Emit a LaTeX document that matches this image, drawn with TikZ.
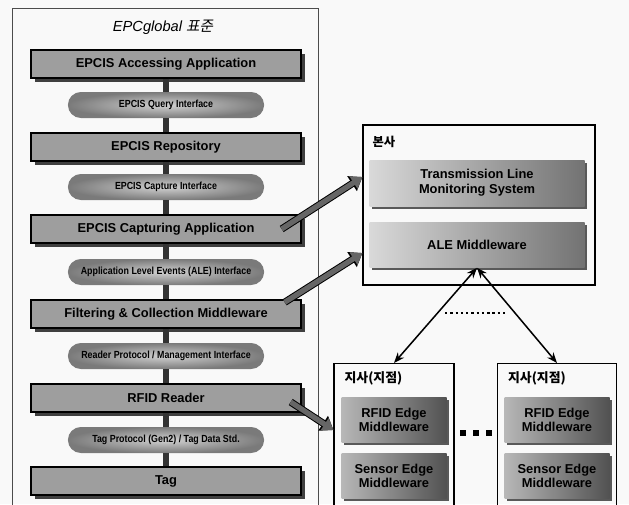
\documentclass[tikz,border=0pt]{standalone}
\usepackage{fontspec}
\usepackage{graphicx}
\setmainfont{Liberation Sans}
\newfontfamily\kr{Noto Sans CJK KR}
\newfontfamily\krit[FakeSlant=0.2]{Noto Sans CJK KR}
\usetikzlibrary{arrows.meta,shapes.misc,shadows,positioning,calc}
\newcommand{\narrowtxt}[1]{\scalebox{0.86}[1]{#1}}

\begin{document}
\begin{tikzpicture}[x=0.03cm, y=-0.03cm,
    layer/.style={draw, line width=1.2pt, fill=black!38, minimum width=8.1cm, minimum height=0.84cm,
        font=\bfseries\fontsize{11}{13}\selectfont,
        drop shadow={shadow xshift=3.5pt, shadow yshift=-3.5pt, fill=black!75, opacity=1}},
    iface/.style={rounded rectangle, inner color=black!18, outer color=black!52,
        minimum width=6.12cm, minimum height=0.78cm, font=\bfseries\fontsize{8.8}{10}\selectfont},
    mwbox/.style={align=center, left color=black!15, right color=black!55, inner sep=1pt,
        font=\bfseries\fontsize{11}{12.5}\selectfont,
        drop shadow={shadow xshift=2.5pt, shadow yshift=-2.5pt, fill=black!65, opacity=1}},
    edgebox/.style={mwbox, left color=black!28, right color=black!68, minimum width=3.15cm, minimum height=1.35cm},
    frame/.style={draw, line width=1pt},
    spine/.style={line width=5pt, black!80},
    bolt/.style={line width=4.5pt, draw=black!60, -{Triangle[length=9pt,width=12pt]},
        preaction={draw=black, line width=6.2pt, -{Triangle[length=10.5pt,width=14.5pt]}}},
    link/.style={line width=1.3pt, {Stealth[length=9pt,width=7pt]}-{Stealth[length=9pt,width=7pt]}}]

    \useasboundingbox (0,0) rectangle (629,504);
    \fill[gray!5] (0,0) rectangle (629,504);

    % EPCglobal stack
    \draw[gray!60!black, line width=0.6pt] (12,520) |- (318,8) -- (318,520);
    \node[font=\fontsize{12.5}{14}\selectfont] (title) at (163,27) {\itshape EPCglobal \krit 표준};

    \node[layer] (acc) at (166,64) {EPCIS Accessing Application};
    \node[iface] (qi) at (166,105) {\narrowtxt{EPCIS Query Interface}};
    \node[layer] (repo) at (166,147) {EPCIS Repository};
    \node[iface] (ci) at (166,187) {\narrowtxt{EPCIS Capture Interface}};
    \node[layer] (capt) at (166,229) {EPCIS Capturing Application};
    \node[iface] (alei) at (166,272) {\narrowtxt{Application Level Events (ALE) Interface}};
    \node[layer] (filt) at (166,314) {Filtering \& Collection Middleware};
    \node[iface] (rpi) at (166,356) {\narrowtxt{Reader Protocol / Management Interface}};
    \node[layer] (rfid) at (166,398) {RFID Reader};
    \node[iface] (tpi) at (166,440) {\narrowtxt{Tag Protocol (Gen2) / Tag Data Std.}};
    \node[layer] (tag) at (166,481) {Tag};

    \foreach \a/\b in {acc/qi, qi/repo, repo/ci, ci/capt, capt/alei, alei/filt, filt/rpi, rpi/rfid, rfid/tpi, tpi/tag}
        \draw[spine] (\a.south) -- (\b.north);

    % head office
    \node[frame, minimum width=6.96cm, minimum height=4.8cm] (hq) at (479,205) {};
    \node[font=\kr\bfseries\fontsize{10.5}{12}\selectfont, anchor=west] (hqlab) at ($(hq.north west)+(6,17)$) {본사};
    \node[mwbox, minimum width=6.45cm, minimum height=1.38cm] (tlms) at (477,183) {Transmission Line\\Monitoring System};
    \node[mwbox, minimum width=6.45cm, minimum height=1.35cm] (alemw) at (477,245) {ALE Middleware};

    % branches
    \node[frame, minimum width=3.6cm, minimum height=5cm, anchor=north] (brL) at (394,363) {};
    \node[frame, minimum width=3.57cm, minimum height=5cm, anchor=north] (brR) at (557,363) {};
    \node[font=\kr\bfseries\fontsize{11}{12}\selectfont, anchor=west] (labL) at ($(brL.north west)+(7,15)$) {지사(지점)};
    \node[font=\kr\bfseries\fontsize{11}{12}\selectfont, anchor=west] (labR) at ($(brR.north west)+(7,15)$) {지사(지점)};
    \node[edgebox] (rfidL) at (394,420) {RFID Edge\\Middleware};
    \node[edgebox] (sensL) at (394,476) {Sensor Edge\\Middleware};
    \node[edgebox] (rfidR) at (557,420) {RFID Edge\\Middleware};
    \node[edgebox] (sensR) at (557,476) {Sensor Edge\\Middleware};

    \draw[link] (alemw.south) -- (brL.north);
    \draw[link] (alemw.south) -- (brR.north);
    \draw[line width=2pt, dash pattern=on 2pt off 2.5pt] (445,313) -- (508,313);
    \foreach \x in {463,476,489}
        \fill (\x-3,430) rectangle (\x+3,436);

    % mapping arrows
    \draw[bolt] ($(capt.east)+(-20,0)$) -- ($(hq.west)+(0,-28)$);
    \draw[bolt] ($(filt.north east)+(-17,3)$) -- ($(hq.west)+(0,48)$);
    \draw[bolt] ($(rfid.east)+(-11,4)$) -- ($(brL.west |- rfidL)+(0,10)$);
\end{tikzpicture}
\end{document}
